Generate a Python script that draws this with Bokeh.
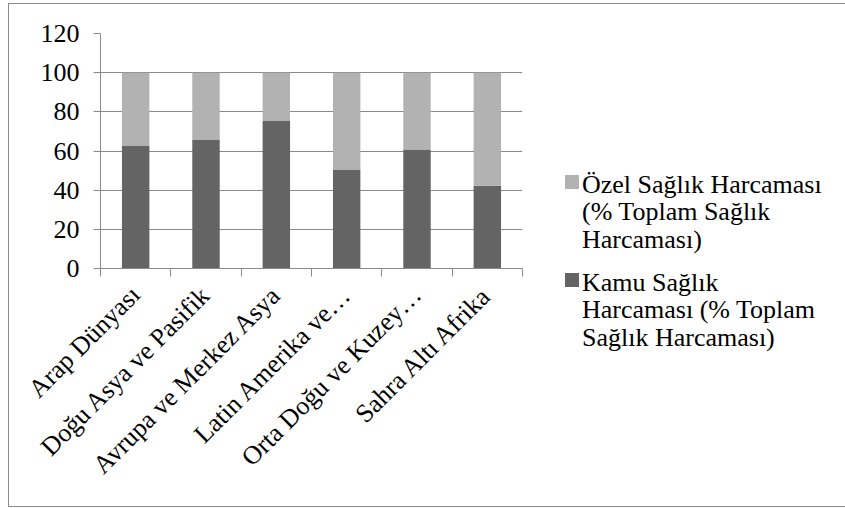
from bokeh.plotting import figure
from bokeh.layouts import row
from bokeh.models import FixedTicker, Range1d, ColumnDataSource, Div
from bokeh.embed import file_html
from bokeh.resources import INLINE

# Regions and health expenditure shares (% of total health expenditure)
regions = ["Arap Dünyası", "Doğu Asya ve Pasifik", "Avrupa ve Merkez Asya",
           "Latin Amerika ve…", "Orta Doğu ve Kuzey…", "Sahra Altı Afrika"]
kamu = [62.8, 65.9, 75.6, 50.6, 60.8, 42.2]
ozel = [100 - v for v in kamu]
y_ticks = [0, 20, 40, 60, 80, 100, 120]

series_names = ["Kamu Sağlık\nHarcaması (% Toplam\nSağlık Harcaması)",
                "Özel Sağlık Harcaması\n(% Toplam Sağlık\nHarcaması)"]
colors = ["#646464", "#b2b2b2"]

FONT = "Liberation Serif"
CSS_FONT = "'Liberation Serif', 'Times New Roman', Times, serif"
GREY = "#8a8a8a"
n = len(regions)

x_pos = [i + 0.5 for i in range(n)]
top_ozel = [k + o for k, o in zip(kamu, ozel)]
src = ColumnDataSource(dict(x=x_pos, b0=[0] * n, t0=kamu, t1=top_ozel))

# ---- stacked bar chart ----
p = figure(output_backend="svg", toolbar_location=None,
           x_range=Range1d(0, n), y_range=Range1d(0, 120),
           frame_width=422, frame_height=235,
           min_border_left=91, min_border_right=8,
           min_border_top=29, min_border_bottom=238)
p.outline_line_color = None
p.border_fill_color = "white"
p.margin = 0

p.vbar(x="x", bottom="b0", top="t0", width=0.39, source=src,
       fill_color=colors[0], line_color=None)
p.vbar(x="x", bottom="t0", top="t1", width=0.39, source=src,
       fill_color=colors[1], line_color=None)

p.yaxis.ticker = FixedTicker(ticks=y_ticks)
p.yaxis.axis_line_color = GREY
p.yaxis.major_tick_line_color = GREY
p.yaxis.major_tick_out = 7
p.yaxis.major_tick_in = 0
p.yaxis.minor_tick_line_color = None
p.yaxis.major_label_text_font = FONT
p.yaxis.major_label_text_font_size = "26px"
p.yaxis.major_label_text_color = "black"
p.yaxis.major_label_standoff = 14

# labels at category centres, tick marks on category boundaries
p.xaxis.ticker = FixedTicker(ticks=x_pos, minor_ticks=list(range(n + 1)))
p.xaxis.major_label_overrides = {x: r for x, r in zip(x_pos, regions)}
p.xaxis.major_label_orientation = 0.785398
p.xaxis.axis_line_color = GREY
p.xaxis.major_tick_line_color = None
p.xaxis.minor_tick_line_color = GREY
p.xaxis.minor_tick_out = 8
p.xaxis.minor_tick_in = 0
p.xaxis.major_label_text_font = FONT
p.xaxis.major_label_text_font_size = "26px"
p.xaxis.major_label_text_color = "black"
p.xaxis.major_label_standoff = 14

p.xgrid.grid_line_color = None
p.ygrid.grid_line_color = GREY
p.ygrid.ticker = FixedTicker(ticks=y_ticks)

# ---- legend panel: private share listed first ----
entries = [(series_names[1], colors[1], 171), (series_names[0], colors[0], 269)]
parts = []
for name, col, sq_top in entries:
    parts.append(
        f'<div style="position:absolute;left:35px;top:{sq_top}px;width:14px;'
        f'height:14px;background:{col};"></div>')
    parts.append(
        f'<div style="position:absolute;left:52px;top:{sq_top - 4.5}px;'
        f'white-space:nowrap;font-family:{CSS_FONT};font-size:26px;'
        f'line-height:27.5px;color:black;">'
        + name.replace("\n", "<br>") + '</div>')
legend_html = ('<div style="position:relative;width:315px;height:400px;">'
               + "".join(parts) + '</div>')
legend = Div(text=legend_html, width=315, height=502, margin=0)

layout = row(p, legend, spacing=0)
layout.margin = (3, 0, 0, 8)
layout.styles = {"border": "1px solid #8c8c8c", "background": "white"}

open("out.html", "w").write(file_html(layout, INLINE))
